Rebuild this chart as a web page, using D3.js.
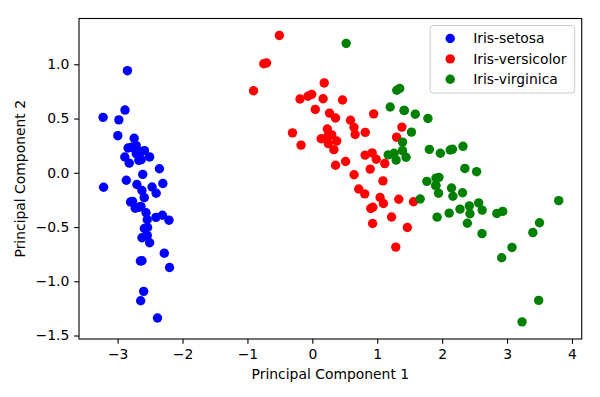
<!DOCTYPE html>
<html>
<head>
<meta charset="utf-8">
<script src="https://cdn.jsdelivr.net/npm/d3@7"></script>
<style>
  body { margin: 0; background: #fff; }
  svg { display: block; font-family: "DejaVu Sans", sans-serif; }
</style>
</head>
<body>
<div id="chart"></div>
<script>
// PCA scores, one pair of arrays per species
var setosaPC1 = [-2.684,-2.714,-2.889,-2.745,-2.729,-2.281,-2.821,-2.626,-2.886,-2.673,
                 -2.507,-2.613,-2.786,-3.224,-2.645,-2.386,-2.624,-2.648,-2.200,-2.588,
                 -2.310,-2.544,-3.216,-2.303,-2.356,-2.507,-2.469,-2.562,-2.640,-2.632,
                 -2.587,-2.410,-2.649,-2.599,-2.637,-2.866,-2.625,-2.801,-2.981,-2.590,
                 -2.770,-2.849,-2.997,-2.406,-2.209,-2.714,-2.538,-2.839,-2.543,-2.703];
var setosaPC2 = [-0.319,0.177,0.145,0.318,-0.327,-0.741,0.089,-0.163,0.578,0.114,
                 -0.645,-0.015,0.235,0.511,-1.179,-1.338,-0.811,-0.312,-0.873,-0.514,
                 -0.391,-0.433,-0.133,-0.099,0.037,0.146,-0.131,-0.368,-0.312,0.197,
                 0.204,-0.411,-0.813,-1.093,0.121,-0.069,-0.599,-0.269,0.488,-0.229,
                 -0.264,0.941,0.342,-0.189,-0.437,0.250,-0.504,0.228,-0.579,-0.108];

var versicolorPC1 = [1.285,0.932,1.464,0.183,1.088,0.642,1.095,-0.749,1.044,-0.009,
                     -0.508,0.512,0.265,0.985,-0.174,0.928,0.660,0.236,0.945,0.045,
                     1.116,0.358,1.298,0.922,0.715,0.900,1.332,1.558,0.813,-0.306,
                     -0.068,-0.190,0.136,1.380,0.588,0.807,1.221,0.815,0.246,0.166,
                     0.465,0.891,0.231,-0.705,0.357,0.332,0.376,0.643,-0.906,0.299];
var versicolorPC2 = [-0.685,-0.318,-0.504,0.828,-0.075,0.418,-0.283,1.005,-0.228,0.723,
                     1.266,0.104,0.550,0.125,0.255,-0.467,0.353,0.334,0.543,0.584,
                     0.085,0.069,0.328,0.183,-0.149,-0.329,-0.244,-0.267,0.163,0.368,
                     0.705,0.680,0.314,0.421,0.484,-0.194,-0.408,0.372,0.269,0.682,
                     0.671,0.034,0.404,1.012,0.505,0.213,0.293,-0.018,0.756,0.349];

var virginicaPC1 = [2.531,1.415,2.617,1.972,2.350,3.397,0.521,2.933,2.321,2.917,
                    1.662,1.803,2.166,1.346,1.586,1.904,1.950,3.487,3.796,1.301,
                    2.428,1.199,3.500,1.389,2.275,2.614,1.259,1.291,2.124,2.388,
                    2.842,3.231,2.159,1.444,1.781,3.076,2.144,1.905,1.169,2.108,
                    2.314,1.922,1.415,2.563,2.419,1.944,1.527,1.764,1.901,1.390];
var virginicaPC2 = [0.010,0.575,-0.344,0.180,0.040,-0.551,1.193,-0.356,0.244,-0.783,
                    -0.242,0.216,-0.216,0.777,0.540,-0.119,-0.042,-1.176,-0.257,0.761,
                    -0.378,0.606,-0.461,0.204,-0.335,-0.561,0.180,0.117,0.210,-0.465,
                    -0.375,-1.374,0.217,0.143,0.500,-0.688,-0.140,-0.049,0.165,-0.372,
                    -0.184,-0.409,0.575,-0.278,-0.305,-0.188,0.375,-0.079,-0.117,0.283];

var speciesNames = ["Iris-setosa", "Iris-versicolor", "Iris-virginica"];
var speciesColors = ["#0000ff", "#ff0000", "#008000"];
var xTicks = [-3, -2, -1, 0, 1, 2, 3, 4];
var yTicks = [-1.5, -1.0, -0.5, 0.0, 0.5, 1.0];

var pc1 = [setosaPC1, versicolorPC1, virginicaPC1];
var pc2 = [setosaPC2, versicolorPC2, virginicaPC2];

// set the dimensions and margins of the graph
var W = 600, H = 397;
var margin = {top: 18.5, right: 18.3, bottom: 58, left: 79},
    width = W - margin.left - margin.right,
    height = H - margin.top - margin.bottom;
var fs = 13.9, tickLen = 4.86, tickPad = 4.86, dotR = 4.7;

var svg = d3.select("#chart")
  .append("svg")
    .attr("width", W)
    .attr("height", H);

var g = svg.append("g")
    .attr("transform", "translate(" + margin.left + "," + margin.top + ")");

var x = d3.scaleLinear().domain([-3.595, 4.15]).range([0, width]);
var y = d3.scaleLinear().domain([-1.532, 1.422]).range([height, 0]);

// points, one group per species
speciesNames.forEach(function(name, i){
  var pts = pc1[i].map(function(v, j){ return [v, pc2[i][j]]; });
  g.append("g").selectAll("circle")
    .data(pts)
    .enter()
    .append("circle")
      .attr("cx", function(d){ return x(d[0]); })
      .attr("cy", function(d){ return y(d[1]); })
      .attr("r", dotR)
      .attr("fill", speciesColors[i]);
});

// axes
var xAxis = g.append("g")
  .attr("transform", "translate(0," + height + ")")
  .call(d3.axisBottom(x).tickValues(xTicks).tickFormat(d3.format("d"))
        .tickSize(tickLen).tickPadding(tickPad));
var yAxis = g.append("g")
  .call(d3.axisLeft(y).tickValues(yTicks).tickFormat(d3.format(".1f"))
        .tickSize(tickLen).tickPadding(tickPad));
[xAxis, yAxis].forEach(function(a){
  a.select(".domain").remove();
  a.selectAll(".tick line").attr("stroke", "#000").attr("stroke-width", 1.1);
  a.selectAll(".tick text").attr("fill", "#000")
    .style("font-size", fs + "px").style("font-family", "DejaVu Sans");
});
xAxis.selectAll(".tick text").attr("dy", "0.76em");

// frame
g.append("rect")
  .attr("width", width).attr("height", height)
  .attr("fill", "none").attr("stroke", "#000").attr("stroke-width", 1.1);

// axis labels
g.append("text")
  .attr("x", width / 2).attr("y", height + 40)
  .attr("text-anchor", "middle")
  .style("font-size", fs + "px")
  .text("Principal Component 1");
g.append("text")
  .attr("transform", "translate(" + (-margin.left + 25) + "," + (height / 2) + ") rotate(-90)")
  .attr("text-anchor", "middle")
  .style("font-size", fs + "px")
  .text("Principal Component 2");

// legend
var lg = g.append("g")
  .attr("transform", "translate(" + (width - 7 - 144.5) + ",7)");
lg.append("rect")
  .attr("width", 144.5).attr("height", 67.5)
  .attr("rx", 2.8).attr("ry", 2.8)
  .attr("fill", "#fff").attr("fill-opacity", 0.8)
  .attr("stroke", "#cccccc").attr("stroke-width", 1);
speciesNames.forEach(function(name, i){
  var row = lg.append("g").attr("transform", "translate(0," + (13 + i * 20.4) + ")");
  row.append("circle").attr("cx", 20).attr("cy", 0).attr("r", dotR)
    .attr("fill", speciesColors[i]);
  row.append("text").attr("x", 43).attr("y", 0).attr("dy", "0.35em")
    .style("font-size", fs + "px")
    .text(name);
});
</script>
</body>
</html>
